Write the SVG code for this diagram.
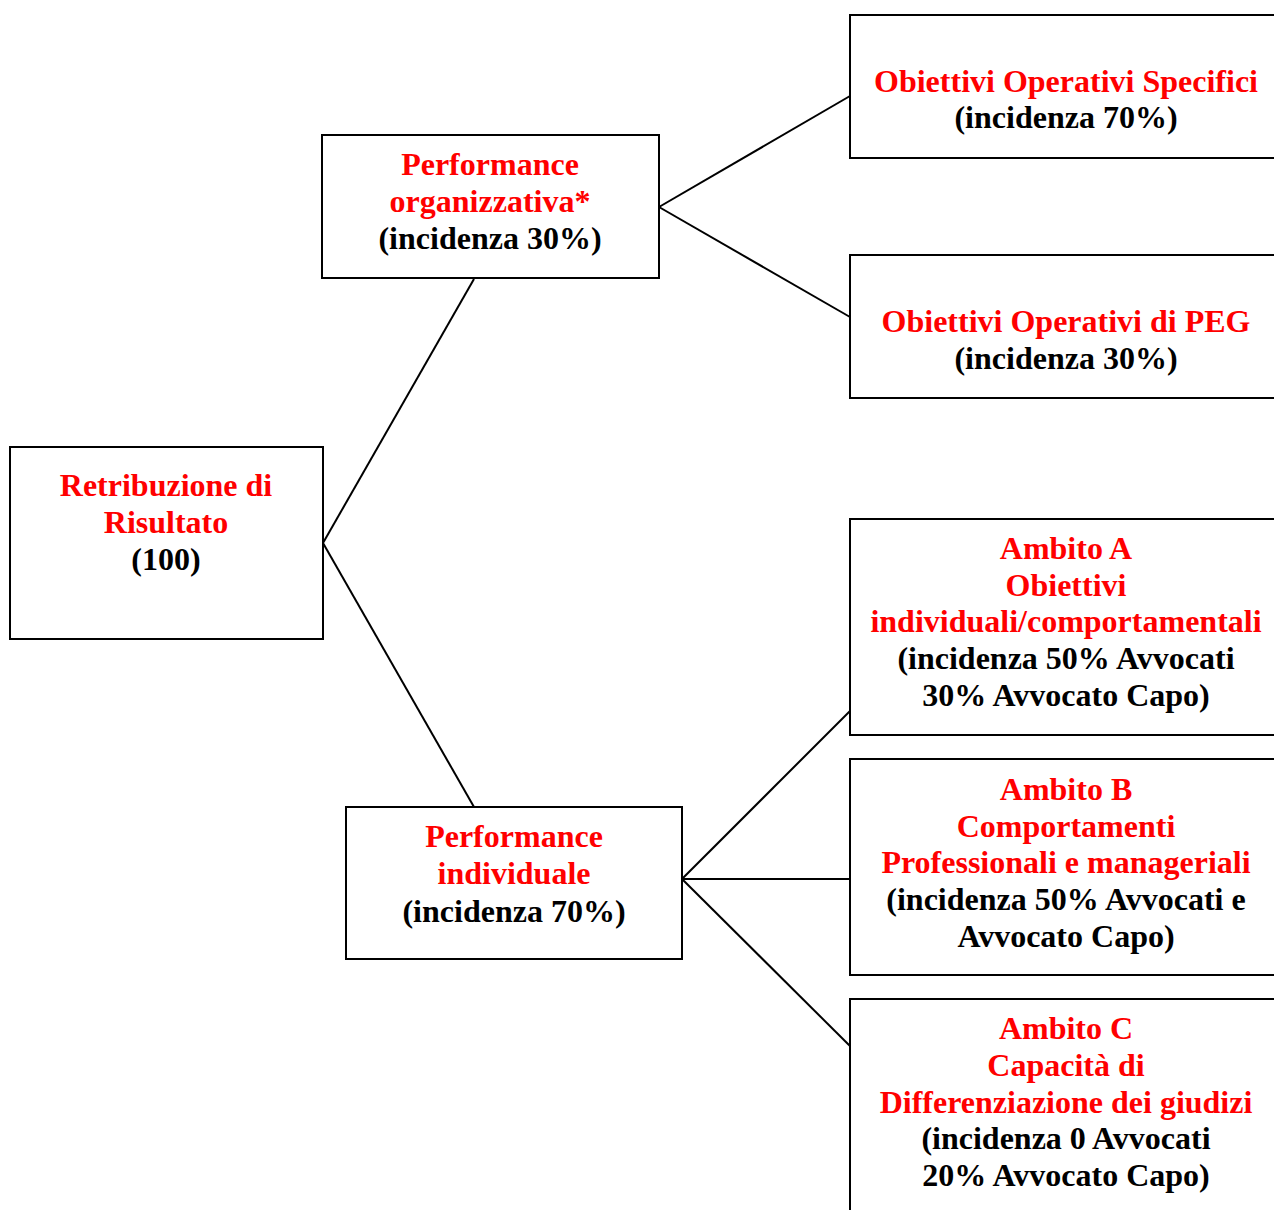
<svg xmlns="http://www.w3.org/2000/svg" width="1274" height="1210" viewBox="0 0 1274 1210">
<style>
.box{fill:#fff;stroke:#000;stroke-width:2}
.t{font-family:"Liberation Serif","Times New Roman",serif;font-weight:bold;font-size:32px;text-anchor:middle}
.r{fill:#ff0000}
.k{fill:#000}
.c{stroke:#000;stroke-width:2;fill:none}
</style>
<rect width="1274" height="1210" fill="#fff"/>
<g id="connectors">
<line class="c" x1="323" y1="543" x2="474" y2="279"/>
<line class="c" x1="323" y1="543" x2="474" y2="807"/>
<line class="c" x1="659" y1="207" x2="850" y2="96"/>
<line class="c" x1="659" y1="207" x2="850" y2="317"/>
<line class="c" x1="682" y1="879" x2="850" y2="711"/>
<line class="c" x1="682" y1="879" x2="850" y2="879"/>
<line class="c" x1="682" y1="879" x2="850" y2="1046"/>
</g>
<g id="root">
<rect class="box" x="10" y="447" width="313" height="192"/>
<text class="t r" x="166" y="496">Retribuzione di</text>
<text class="t r" x="166" y="533">Risultato</text>
<text class="t k" x="166" y="570">(100)</text>
</g>
<g id="perf-org">
<rect class="box" x="322" y="135" width="337" height="143"/>
<text class="t r" x="490" y="175">Performance</text>
<text class="t r" x="490" y="212">organizzativa*</text>
<text class="t k" x="490" y="249">(incidenza 30%)</text>
</g>
<g id="perf-ind">
<rect class="box" x="346" y="807" width="336" height="152"/>
<text class="t r" x="514" y="847">Performance</text>
<text class="t r" x="514" y="884">individuale</text>
<text class="t k" x="514" y="922">(incidenza 70%)</text>
</g>
<g id="obiettivi-specifici">
<rect class="box" x="850" y="15" width="440" height="143"/>
<text class="t r" x="1066" y="92">Obiettivi Operativi Specifici</text>
<text class="t k" x="1066" y="128">(incidenza 70%)</text>
</g>
<g id="obiettivi-peg">
<rect class="box" x="850" y="255" width="440" height="143"/>
<text class="t r" x="1066" y="332">Obiettivi Operativi di PEG</text>
<text class="t k" x="1066" y="369">(incidenza 30%)</text>
</g>
<g id="ambito-a">
<rect class="box" x="850" y="519" width="440" height="216"/>
<text class="t r" x="1066" y="559">Ambito A</text>
<text class="t r" x="1066" y="596">Obiettivi</text>
<text class="t r" x="1066" y="632">individuali/comportamentali</text>
<text class="t k" x="1066" y="669">(incidenza 50% Avvocati</text>
<text class="t k" x="1066" y="706">30% Avvocato Capo)</text>
</g>
<g id="ambito-b">
<rect class="box" x="850" y="759" width="440" height="216"/>
<text class="t r" x="1066" y="800">Ambito B</text>
<text class="t r" x="1066" y="837">Comportamenti</text>
<text class="t r" x="1066" y="873">Professionali e manageriali</text>
<text class="t k" x="1066" y="910">(incidenza 50% Avvocati e</text>
<text class="t k" x="1066" y="947">Avvocato Capo)</text>
</g>
<g id="ambito-c">
<rect class="box" x="850" y="999" width="440" height="240"/>
<text class="t r" x="1066" y="1039">Ambito C</text>
<text class="t r" x="1066" y="1076">Capacità di</text>
<text class="t r" x="1066" y="1113">Differenziazione dei giudizi</text>
<text class="t k" x="1066" y="1149">(incidenza 0 Avvocati</text>
<text class="t k" x="1066" y="1186">20% Avvocato Capo)</text>
</g>
</svg>
